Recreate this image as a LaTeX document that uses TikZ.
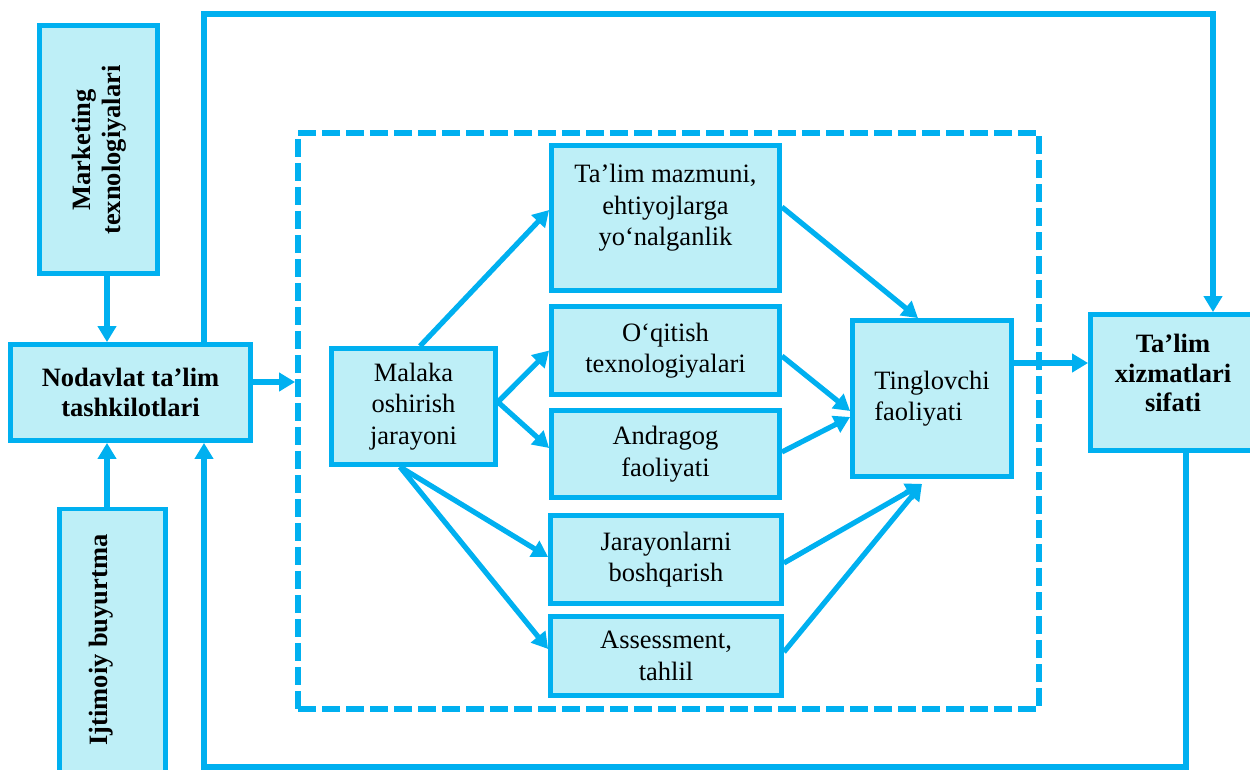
\documentclass[tikz,border=0pt]{standalone}
\usepackage{fontspec}
\setmainfont{Liberation Serif}
\usetikzlibrary{arrows.meta,calc}
\definecolor{cy}{RGB}{0,176,240}
\definecolor{cyfill}{RGB}{190,239,247}
\begin{document}
\begin{tikzpicture}[x=1pt,y=-1pt,
  box/.style={draw=cy, fill=cyfill, line width=4.8pt, inner sep=0pt, align=center,
    font=\fontsize{26.5}{31.5}\selectfont},
  framebox/.style={draw=cy, line width=5.8pt, dash pattern=on 18pt off 6pt, inner sep=0pt},
  lbl/.style={inner sep=0pt, align=center, font=\fontsize{26.5}{29.5}\selectfont\bfseries},
  arr/.style={draw=cy, line width=5.2pt, -{Triangle[length=16pt,width=18pt]}}]
\useasboundingbox (0,0) rectangle (1250,769);

\node[framebox, minimum width=741pt, minimum height=576pt] (frame) at (668.5,421) {};

\node[box, minimum width=118pt, minimum height=248pt] (mkt) at (98.5,149.5) {};
\node[lbl, rotate=90] (mktl) at (99,150) {Marketing\\texnologiyalari};
\node[box, font=\fontsize{26.5}{29.5}\selectfont\bfseries, minimum width=240pt, minimum height=96pt] (nod) at (130.5,392.5) {Nodavlat ta’lim\\tashkilotlari};
\node[box, minimum width=106pt, minimum height=279pt] (ijt) at (112.5,648.5) {};
\node[lbl, rotate=90] (ijtl) at (101,640) {Ijtimoiy buyurtma};

\node[box, minimum width=164pt, minimum height=116pt] (mal) at (413.5,406.5) {Malaka\\oshirish\\jarayoni};
\node[box, minimum width=228pt, minimum height=145pt] (tm) at (665.5,218) {Ta’lim mazmuni,\\ehtiyojlarga\\yo‘nalganlik\\[-6pt]\mbox{}};
\node[box, minimum width=228pt, minimum height=88pt] (oq) at (665.5,350.5) {O‘qitish\\texnologiyalari};
\node[box, minimum width=228pt, minimum height=87pt] (an) at (665.5,454) {Andragog\\faoliyati};
\node[box, minimum width=231pt, minimum height=88pt] (jr) at (666,559.5) {Jarayonlarni\\boshqarish};
\node[box, minimum width=231pt, minimum height=79pt] (asn) at (666,656) {Assessment,\\tahlil};
\node[box, align=left, minimum width=159pt, minimum height=156pt] (tg) at (932,398.5) {Tinglovchi\\faoliyati};
\node[box, minimum width=165pt, minimum height=136pt] (tx) at (1173,382.5) {};
\node[lbl] (txl) at (1173,373) {Ta’lim\\xizmatlari\\sifati};

\coordinate (xa) at (107,0);
\coordinate (xb) at (204,14);
\coordinate (xc) at (1213,14);
\coordinate (xd) at (1186,767);
\coordinate (xe) at (204,767);
\coordinate (ya) at (0,382);

\draw[arr] (mkt.south -| xa) -- (nod.north -| xa);
\draw[arr] (ijt.north -| xa) -- (nod.south -| xa);
\draw[arr] (nod.north -| xb) -- (xb) -- (xc) -- (tx.north -| xc);
\draw[arr] (tx.south -| xd) -- (xd) -- (xe) -- (nod.south -| xe);
\draw[arr] (nod.east |- ya) -- (frame.west |- ya);

\draw[arr] ($(mal.north)+(6.5,0)$) -- ($(tm.west)+(0,-8)$);
\draw[arr] ($(mal.east)+(0,-4.5)$) -- (oq.west);
\draw[arr] ($(mal.east)+(0,-4.5)$) -- ($(an.west)+(0,-6)$);
\draw[arr] ($(mal.south)+(-13.5,0)$) -- ($(jr.west)+(0,-2.5)$);
\draw[arr] ($(mal.south)+(-13.5,0)$) -- ($(asn.west)+(0,-7)$);

\draw[arr] ($(tm.east)+(0,-11)$) -- ($(tg.north)+(-14,0)$);
\draw[arr] ($(oq.east)+(0,5.5)$) -- ($(tg.west)+(0,12.5)$);
\draw[arr] ($(an.east)+(0,-2)$) -- ($(tg.west)+(0,18.5)$);
\draw[arr] ($(jr.east)+(0,3.5)$) -- ($(tg.south)+(-10,5)$);
\draw[arr] ($(asn.east)+(0,-4)$) -- ($(tg.south)+(-10,5)$);
\draw[arr] ($(tg.east)+(0,-35.5)$) -- ($(tx.west)+(0,-19.5)$);
\end{tikzpicture}
\end{document}
